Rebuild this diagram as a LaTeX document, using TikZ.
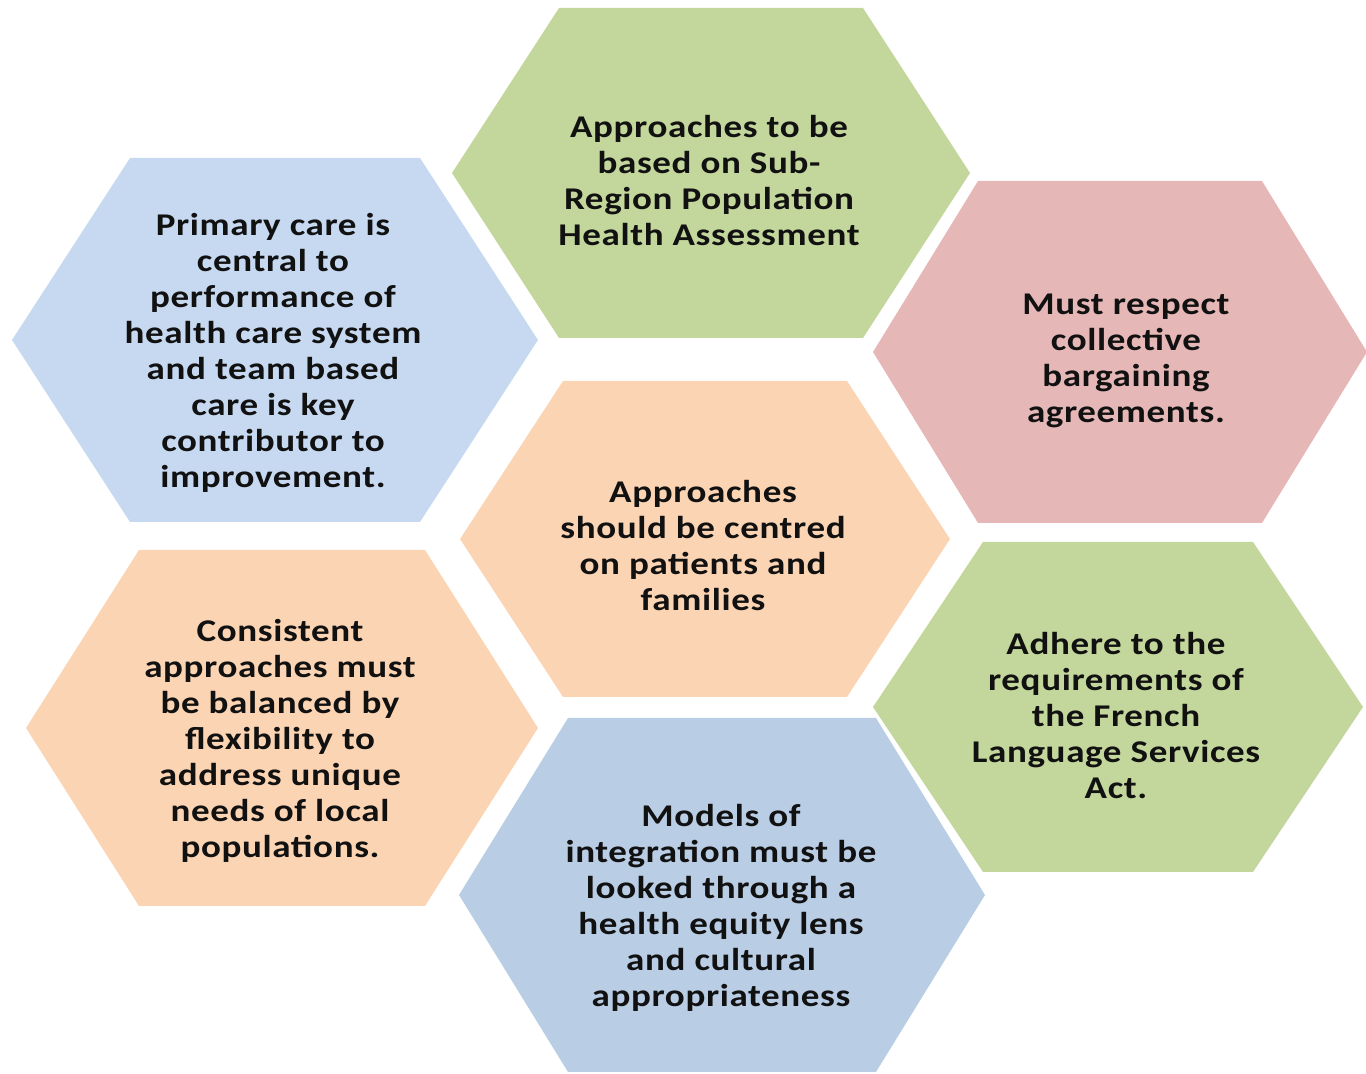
\documentclass[tikz,border=0pt]{standalone}
\usepackage{fontspec}
\setmainfont{Carlito}[FakeStretch=1.17,LetterSpace=2]
\usepackage{xcolor}
\usepackage{tikz}
\definecolor{hxgreen}{HTML}{C3D69B}
\definecolor{hxblue}{HTML}{C6D9F0}
\definecolor{hxsteel}{HTML}{B9CDE5}
\definecolor{hxrose}{HTML}{E5B8B7}
\definecolor{hxpeach}{HTML}{FBD4B4}
\definecolor{hxink}{HTML}{111111}

\begin{document}
\begin{tikzpicture}[x=0.01cm,y=-0.01cm,
  cell/.style={align=center,inner sep=0pt,text=hxink,
    font=\fontsize{9}{10.24}\selectfont\bfseries}]
\useasboundingbox (0,0) rectangle (1366,1074);
\clip (0,0) rectangle (1366,1074);
% name / centre / half width / half top edge / half height / fill / text x,y / text
\foreach \name/\cx/\cy/\hw/\tw/\hh/\col/\tx/\ty/\txt in {
  prim/275/340/263/145/182/hxblue/273/353/{Primary care is\\central to\\performance of\\health care system\\and team based\\care is key\\contributor to\\improvement.},
  assess/711/173/259/152/165/hxgreen/709/181/{Approaches to be\\based on Sub-\\Region Population\\Health Assessment},
  bargain/1120/352/247/142/171/hxrose/1126/361/{Must respect\\collective\\bargaining\\agreements.},
  centred/705/539/245/142/158/hxpeach/703/546/{Approaches\\should be centred\\on patients and\\families},
  flex/282/728/256/143/178/hxpeach/280/741/{Consistent\\approaches must\\be balanced by\\flexibility to\\address unique\\needs of local\\populations.},
  french/1118/707/245/135/165/hxgreen/1116/716/{Adhere to the\\requirements of\\the French\\Language Services\\Act.},
  equity/722/895/263/154/177/hxsteel/721/908/{Models of\\integration must be\\looked through a\\health equity lens\\and cultural\\appropriateness}} {
  \fill[\col] (\cx-\hw,\cy) -- (\cx-\tw,\cy-\hh) -- (\cx+\tw,\cy-\hh)
    -- (\cx+\hw,\cy) -- (\cx+\tw,\cy+\hh) -- (\cx-\tw,\cy+\hh) -- cycle;
  \node[cell] (\name) at (\tx,\ty) {\txt};
}
\end{tikzpicture}
\end{document}
